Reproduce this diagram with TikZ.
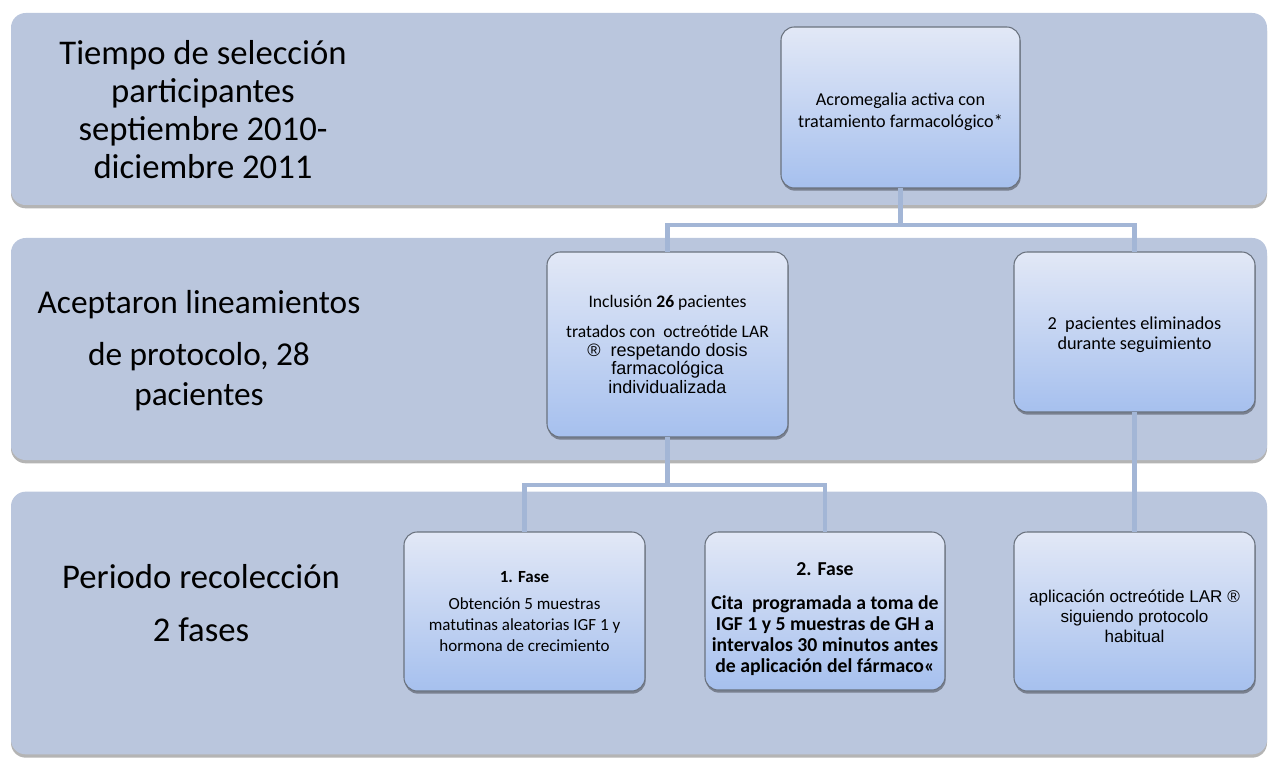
\documentclass[tikz,border=0pt]{standalone}
\usepackage{fontspec}
\setmainfont{Carlito}
\newfontfamily\arial{Liberation Sans}
\usetikzlibrary{shadows}
\definecolor{bandc}{HTML}{BAC6DD}
\definecolor{boxtop}{HTML}{E2E8F6}
\definecolor{boxbot}{HTML}{A6C0EE}
\definecolor{boxline}{HTML}{6A727E}
\definecolor{linkc}{HTML}{A3B6D6}
\begin{document}
\begin{tikzpicture}[x=0.75pt,y=-0.75pt,
  band/.style={draw=none, fill=bandc, rounded corners=11pt, inner sep=0pt, outer sep=0pt,
    drop shadow={shadow xshift=0pt, shadow yshift=-2.5pt, opacity=0.45, fill=gray!70!black}},
  box/.style={draw=boxline, line width=0.8pt, rounded corners=10pt, top color=boxtop, bottom color=boxbot,
    inner sep=2pt, outer sep=0pt, align=center, font=\fontsize{13.6}{16.5}\selectfont,
    drop shadow={shadow xshift=0.5pt, shadow yshift=-2pt, opacity=0.35, fill=black}},
  lab/.style={align=center, inner sep=0pt},
  link/.style={draw=linkc, line width=3.6pt}
]
\useasboundingbox (0,0) rectangle (1272,763);
\clip (0,0) rectangle (1272,763);
% bands
\node[band, minimum width=942pt, minimum height=144pt] (band1) at (639,109) {};
\node[band, minimum width=942pt, minimum height=166.5pt] (band2) at (639,349) {};
\node[band, minimum width=942pt, minimum height=197pt] (band3) at (639,623) {};
% band labels
\node[lab, font=\fontsize{26}{28.5}\selectfont] (lab1) at (203,110)
  {Tiempo de selección\\participantes\\septiembre 2010-\\diciembre 2011};
\node[lab, font=\fontsize{25}{30}\selectfont] (lab2) at (199,351)
  {Aceptaron lineamientos\\[9pt]de protocolo, 28\\pacientes};
\node[lab, font=\fontsize{26}{30}\selectfont] (lab3) at (201,603)
  {Periodo recolección\\[10pt]2 fases};
% junction points
\coordinate (j1) at (900.5,225);
\coordinate (j2) at (667.5,485);
% nodes
\node[box, minimum width=179.25pt, minimum height=120.75pt] (top) at (900.5,107.5)
  {\rule{0pt}{16pt}Acromegalia activa con\\tratamiento farmacológico*};
\node[box, minimum width=180.75pt, minimum height=138.75pt, font=\fontsize{13.2}{14}\selectfont] (incl) at (667.5,344.5)
  {Inclusión \textbf{26} pacientes\\[8.5pt]tratados con\ \ octreótide LAR\\
   {\arial\fontsize{13.5}{13.5}\selectfont ® \ respetando dosis}\\{\arial\fontsize{13.5}{13.5}\selectfont farmacológica}\\{\arial\fontsize{13.5}{13.5}\selectfont individualizada}};
\node[box, minimum width=180.75pt, minimum height=120pt, font=\fontsize{13.7}{15}\selectfont] (elim) at (1134.5,332)
  {\rule{0pt}{13pt}2\ \ pacientes eliminados\\durante seguimiento};
\node[box, minimum width=180.75pt, minimum height=119.25pt, font=\fontsize{12.75}{15.75}\selectfont] (f1) at (524.5,611.5)
  {\textbf{1. Fase}\\[5pt]Obtención 5 muestras\\matutinas aleatorias IGF 1 y\\hormona de crecimiento};
\node[box, minimum width=180pt, minimum height=118.5pt, font=\bfseries\fontsize{14.8}{15.75}\selectfont] (f2) at (825,611)
  {\rule{0pt}{21.5pt}2. Fase\\[10pt]Cita\ \ programada a toma de\\IGF 1 y 5 muestras de GH a\\intervalos 30 minutos antes\\de aplicación del fármaco«};
\node[box, minimum width=180.75pt, minimum height=119.25pt, font=\arial\fontsize{12.8}{15}\selectfont] (ap) at (1134.5,611.5)
  {\rule{0pt}{16pt}aplicación octreótide LAR ®\\siguiendo protocolo\\habitual};
% connectors
\draw[link] (top.south) -- (j1);
\draw[link] (j1) -| (incl.north);
\draw[link] (j1) -| (elim.north);
\draw[link] (incl.south) -- (j2);
\draw[link] (j2) -| (f1.north);
\draw[link] (j2) -| (f2.north);
\draw[link] (elim.south) -- (ap.north);
\end{tikzpicture}
\end{document}
